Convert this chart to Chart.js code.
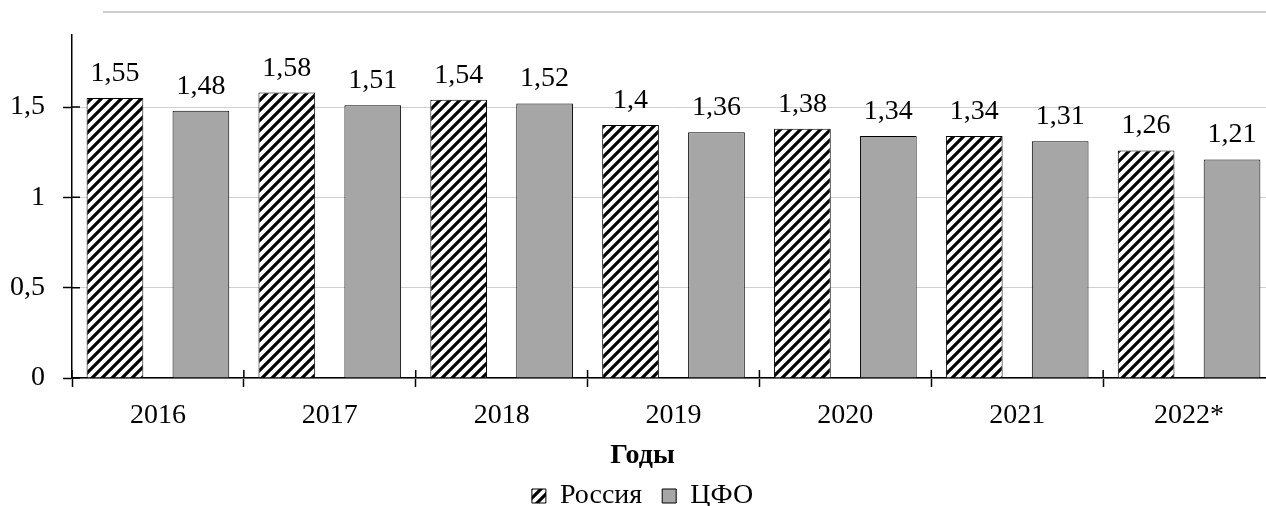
<!DOCTYPE html>
<html>
<head>
<meta charset="utf-8">
<script src="https://cdn.jsdelivr.net/npm/chart.js@4.4.1/dist/chart.umd.min.js"></script>
<style>
  body { margin: 0; overflow: hidden; background: #fff; }
  #wrap { position: relative; width: 1290px; height: 506px; }
  #topline { position: absolute; left: 103px; top: 11px; width: 1200px; height: 2px; background: #cdcdcd; }
</style>
</head>
<body>
<div id="wrap">
  <div id="topline"></div>
  <canvas id="chart" width="1290" height="506"></canvas>
</div>
<script>
const years = ["2016", "2017", "2018", "2019", "2020", "2021", "2022*"];
const russia = [1.55, 1.58, 1.54, 1.4, 1.38, 1.34, 1.26];
const cfo = [1.48, 1.51, 1.52, 1.36, 1.34, 1.31, 1.21];
const yTicks = [0, 0.5, 1, 1.5];

const FONT = '"Liberation Serif", "Times New Roman", serif';

// hatch pattern for Russia bars
function makeHatch() {
    const size = 10;
    const c = document.createElement("canvas");
    c.width = size;
    c.height = size;
    const g = c.getContext("2d");
    g.fillStyle = "#fff";
    g.fillRect(0, 0, size, size);
    g.strokeStyle = "#000";
    g.lineWidth = 3.2;
    g.beginPath();
    g.moveTo(-size, size * 2); g.lineTo(size * 2, -size);
    g.moveTo(-size, size); g.lineTo(size, -size);
    g.moveTo(0, size * 2); g.lineTo(size * 2, 0);
    g.stroke();
    return g.createPattern(c, "repeat");
}

const fmt = v => String(v).replace(".", ",");

// value labels above bars
const barLabels = {
    id: "barLabels",
    afterDatasetsDraw(chart) {
        const ctx = chart.ctx;
        ctx.save();
        ctx.font = "28px " + FONT;
        ctx.fillStyle = "#000";
        ctx.textAlign = "center";
        ctx.textBaseline = "alphabetic";
        chart.data.datasets.forEach((ds, di) => {
            chart.getDatasetMeta(di).data.forEach((bar, i) => {
                ctx.fillText(fmt(ds.data[i]), bar.x, bar.y - 17);
            });
        });
        ctx.restore();
    }
};

// tick marks that cross the axes
const crossTicks = {
    id: "crossTicks",
    afterDraw(chart) {
        const { ctx, scales: { x, y }, chartArea } = chart;
        ctx.save();
        ctx.strokeStyle = "#000";
        ctx.lineWidth = 1.5;
        ctx.beginPath();
        y.ticks.forEach((t, i) => {
            const py = y.getPixelForTick(i);
            ctx.moveTo(chartArea.left, py);
            ctx.lineTo(chartArea.left + 8, py);
        });
        for (let i = 0; i <= years.length; i++) {
            const px = x.getPixelForValue(i - 0.5);
            ctx.moveTo(px, chartArea.bottom);
            ctx.lineTo(px, chartArea.bottom - 8);
        }
        ctx.stroke();
        ctx.restore();
    }
};

const hatch = makeHatch();

new Chart(document.getElementById("chart"), {
    type: "bar",
    data: {
        labels: years,
        datasets: [
            {
                label: "Россия",
                data: russia,
                backgroundColor: hatch,
                borderColor: "#000",
                borderWidth: 1,
                categoryPercentage: 1,
                barPercentage: 0.66
            },
            {
                label: "ЦФО",
                data: cfo,
                backgroundColor: "#a6a6a6",
                borderColor: "#000",
                borderWidth: 1,
                categoryPercentage: 1,
                barPercentage: 0.66
            }
        ]
    },
    options: {
        responsive: false,
        animation: false,
        layout: { padding: { top: 30, left: 10, right: 15, bottom: -14 } },
        scales: {
            x: {
                afterFit: scale => {
                    scale.height -= 3;
                },
                ticks: {
                    color: "#000",
                    font: { family: FONT, size: 28, lineHeight: 1 },
                    padding: 15,
                    maxRotation: 0,
                    autoSkip: false
                },
                grid: {
                    drawOnChartArea: false,
                    tickLength: 9,
                    tickColor: "#000",
                    tickWidth: 1.5,
                    offset: true
                },
                border: { color: "#000", width: 1.5 }
            },
            y: {
                min: 0,
                max: 1.9,
                afterBuildTicks: scale => {
                    scale.ticks = yTicks.map(v => ({ value: v }));
                },
                afterFit: scale => {
                    scale.width = 62;
                },
                ticks: {
                    color: "#000",
                    font: { family: FONT, size: 28 },
                    padding: 18,
                    callback: v => fmt(v)
                },
                grid: {
                    color: "#d0d0d0",
                    lineWidth: 1,
                    tickLength: 9,
                    tickColor: "#000",
                    tickWidth: 1.5
                },
                border: { color: "#000", width: 1.5 }
            }
        },
        plugins: {
            tooltip: { enabled: false },
            title: {
                display: true,
                text: "Годы",
                position: "bottom",
                weight: 500,
                color: "#000",
                font: { family: FONT, size: 28, weight: "bold", lineHeight: 1 },
                padding: { top: 0, bottom: -8 }
            },
            legend: {
                position: "bottom",
                labels: {
                    color: "#000",
                    font: { family: FONT, size: 28 },
                    boxWidth: 14,
                    boxHeight: 14,
                    padding: 20
                }
            }
        }
    },
    plugins: [barLabels, crossTicks]
});
</script>
</body>
</html>
